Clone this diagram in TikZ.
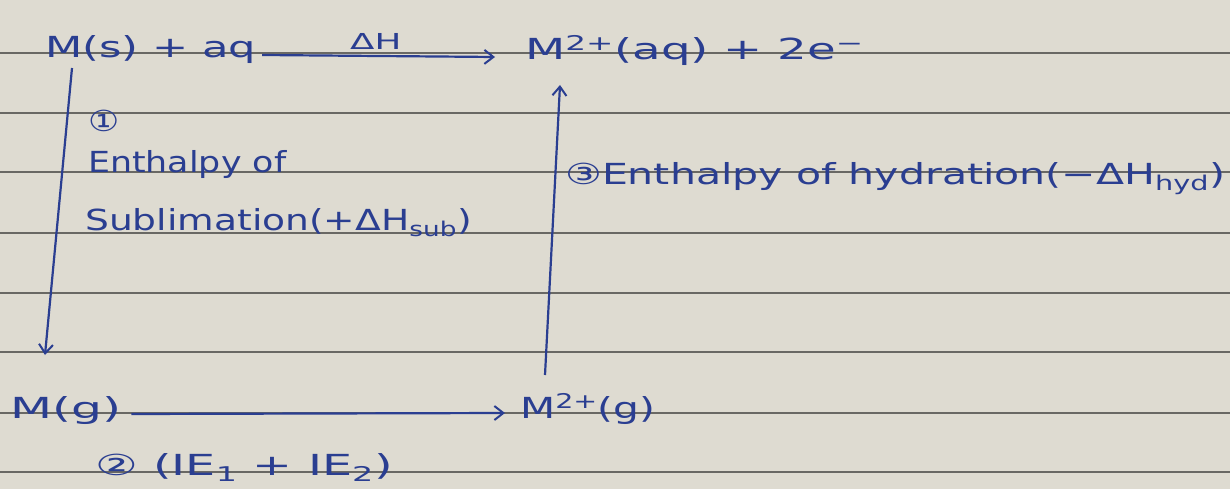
\documentclass[tikz,border=0pt]{standalone}
\usepackage{graphicx}
\usepackage{fontspec}
\setmainfont{DejaVu Sans}[FakeStretch=1.2]
\usetikzlibrary{arrows.meta}
\definecolor{paper}{RGB}{222,219,209}
\definecolor{rulecol}{RGB}{105,104,100}
\definecolor{ink}{RGB}{42,62,145}
\newcommand{\wid}[2]{\scalebox{#1}[1]{#2}}
\tikzset{
  txt/.style={anchor=base west, inner sep=0pt, text=ink, font=\fontsize{29}{34}\selectfont},
  small/.style={txt, font=\fontsize{22}{26}\selectfont},
  arr/.style={draw=ink, line width=2.2pt, -{Straight Barb[length=9pt,width=14pt,line width=2pt]}},
  ruleline/.style={draw=rulecol, line width=2pt}
}
\begin{document}
\begin{tikzpicture}[x=1pt,y=-1pt]
\fill[paper] (0,0) rectangle (1230,489);
\useasboundingbox (0,0) rectangle (1230,489);
\foreach \yy in {53,113,172.5,232.5,292.5,352,412.5,472}
  \draw[ruleline] (0,\yy) -- (1230,\yy);

\node[txt] (ms) at (45,58) {\wid{1.24}{M(s) + aq}};
\node[small] (dh) at (350,50) {\wid{1.35}{ΔH}};
\node[txt] (maq) at (525,60) {\wid{1.34}{M\textsuperscript{2+}(aq) + 2e\textsuperscript{−}}};
\node[txt] (one) at (88,132) {①};
\node[txt] (enth) at (88,172) {Enthalpy of};
\node[txt] (subl) at (85,230) {\wid{1.08}{Sublimation(+ΔH\textsubscript{sub})}};
\node[txt] (hyd) at (565,184) {\wid{1.18}{③Enthalpy of hydration(−ΔH\textsubscript{hyd})}};
\node[txt] (mg) at (10,418) {\wid{1.4}{M(g)}};
\node[txt] (mtg) at (520,418) {\wid{1.17}{M\textsuperscript{2+}(g)}};
\node[txt] (ie) at (95,475) {\wid{1.37}{② (IE\textsubscript{1} + IE\textsubscript{2})}};

\draw[arr] ([xshift=6pt,yshift=3pt]ms.base east) -- ([xshift=-30pt,yshift=3pt]maq.base west);
\draw[arr] ([xshift=27pt,yshift=-10pt]ms.base west) -- ([xshift=35pt,yshift=63pt]mg.base west);
\draw[arr] ([xshift=25pt,yshift=43pt]mtg.base west) -- ([xshift=35pt,yshift=-25pt]maq.base west);
\draw[arr] ([xshift=10pt,yshift=4pt]mg.base east) -- ([xshift=-15pt,yshift=5pt]mtg.base west);
\end{tikzpicture}
\end{document}
